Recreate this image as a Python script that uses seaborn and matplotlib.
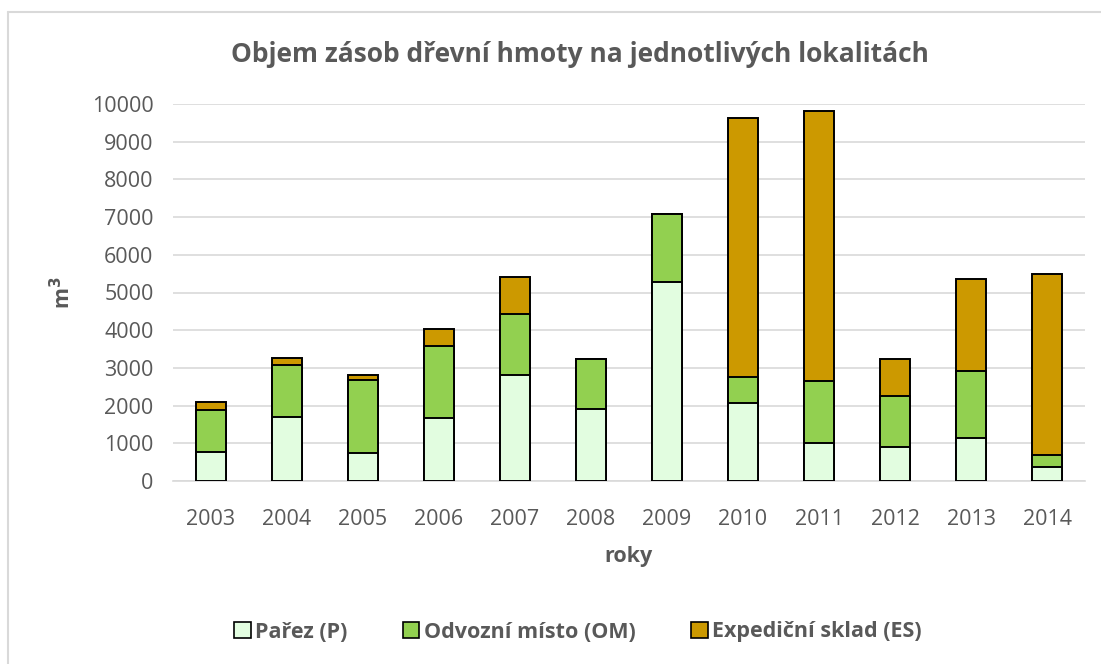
import matplotlib
matplotlib.use("Agg")
import matplotlib.pyplot as plt
import seaborn as sns
import numpy as np
from matplotlib.patches import Patch
from matplotlib.lines import Line2D

# data (m3)
roky = ['2003', '2004', '2005', '2006', '2007', '2008',
        '2009', '2010', '2011', '2012', '2013', '2014']
parez = [780, 1690, 750, 1660, 2820, 1910, 5280, 2060, 1000, 900, 1150, 360]
odvozni = [1110, 1380, 1930, 1910, 1600, 1320, 1790, 710, 1640, 1360, 1770, 320]
expedicni = [210, 200, 140, 450, 1000, 0, 20, 6870, 7180, 970, 2440, 4810]

labels = ['Pařez (P)', 'Odvozní místo (OM)', 'Expediční sklad (ES)']
colors = ['#e2fde0', '#92d050', '#cc9900']
grey = '#595959'

sns.set_style('white')
plt.rcParams['font.family'] = ['Open Sans', 'DejaVu Sans']

fig = plt.figure(figsize=(11.01, 6.64), dpi=100)
ax = fig.add_axes([173/1101, 1-481/664, 912/1101, 377/664])

# stacked bars: draw cumulative totals from the top segment down
s1 = np.array(parez)
s2 = s1 + np.array(odvozni)
s3 = s2 + np.array(expedicni)
for tot, c in zip([s3, s2, s1], colors[::-1]):
    sns.barplot(x=roky, y=tot, color=c, width=0.4, edgecolor='black',
                linewidth=1.4, saturation=1, ax=ax, zorder=3)

ax.set_ylim(0, 10000)
ax.set_xlim(-0.5, 11.5)
ax.set_yticks(range(0, 10001, 1000))
ax.yaxis.grid(True, color='#d9d9d9', linewidth=1.2, zorder=0)
ax.set_axisbelow(True)
for s in ['top', 'right', 'left']:
    ax.spines[s].set_visible(False)
ax.spines['bottom'].set_color('#d9d9d9')
ax.spines['bottom'].set_linewidth(1.2)
ax.tick_params(axis='both', length=0, labelsize=15.5, colors=grey)
ax.tick_params(axis='x', pad=20)
ax.tick_params(axis='y', pad=14)

fig.text(580/1101, 1-55/664, 'Objem zásob dřevní hmoty na jednotlivých lokalitách',
         fontsize=19, fontweight='bold', color=grey, ha='center', va='center')
ax.set_xlabel('roky', fontsize=15.5, fontweight='bold', color=grey, labelpad=12)
ax.set_ylabel('m$^\\mathbf{3}$', fontsize=15.5, fontweight='bold', color=grey, labelpad=12)

handles = [Patch(facecolor=c, edgecolor='black', linewidth=1.2) for c in colors]
leg = fig.legend(handles, labels, loc='center', bbox_to_anchor=(578/1101, 1-632/664),
                 ncol=3, frameon=False, handlelength=0.75, handleheight=0.75,
                 handletextpad=0.2, columnspacing=2.6,
                 prop={'size': 15.5, 'weight': 'bold'})
for t in leg.get_texts():
    t.set_color(grey)

# chart area border (only top and left visible in the reference)
fig.add_artist(Line2D([8/1101, 8/1101], [0, 1-12/664], color='#d9d9d9', linewidth=1.5))
fig.add_artist(Line2D([8/1101, 1], [1-12/664, 1-12/664], color='#d9d9d9', linewidth=1.5))

fig.savefig('out.png', dpi=100)
